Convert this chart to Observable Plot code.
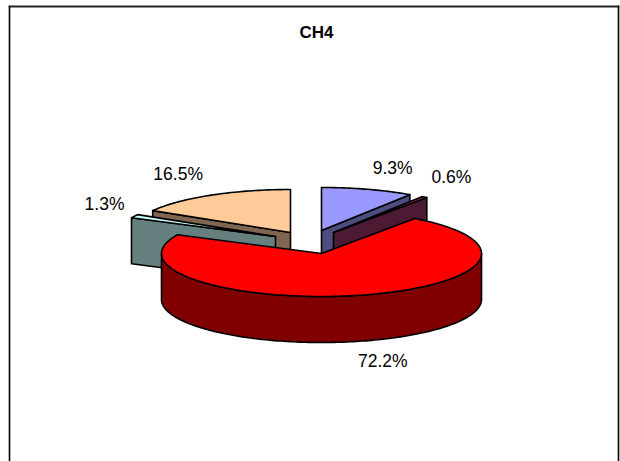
<!DOCTYPE html>
<html>
<head>
<meta charset="utf-8">
<script src="https://cdn.jsdelivr.net/npm/d3@7"></script>
<script src="https://cdn.jsdelivr.net/npm/@observablehq/plot@0.6"></script>
<style>html,body{margin:0;padding:0;background:#fff;overflow:hidden}svg{display:block}</style>
</head>
<body>
<div id="chart"></div>
<script>
const chartTitle = "CH4";
const shares = [9.3, 0.6, 72.2, 1.3, 16.5];
const shareLabels = ["9.3%", "0.6%", "72.2%", "1.3%", "16.5%"];
const topColors = ["#9999FF", "#993366", "#FF0000", "#CCFFFF", "#FFCC99"];
const wallColors = ["#4D4D80", "#4D1A33", "#800000", "#668080", "#806650"];
const paintOrder = [4, 3, 0, 1, 2];

// layout, in pixels of the 620x461 picture
const W = 620, H = 461, box = {left: 9, right: 618, top: 6};
const cx = 321, cy = 253, rx = 160, ry = 43, depthPx = 46;
const explodePx = [[0, -23], [12, -21], [0, 0], [-46, -17], [-31, -21]];
const labelNudge = [[25, -21], [27, -20], [22, 66], [-30, -12], [-33, -21]];

// pie geometry in pie units: x in radii, y in flattened radii (up)
const depth = depthPx / ry;
const total = d3.sum(shares);
let acc = 0;
const slices = shares.map((v, i) => {
  const a0 = acc / total * 2 * Math.PI; acc += v;
  const a1 = acc / total * 2 * Math.PI;
  return {i, a0, a1, ox: explodePx[i][0] / rx, oy: -explodePx[i][1] / ry};
});
const pt = (s, a, z = 0) => ({x: s.ox + Math.sin(a), y: s.oy + Math.cos(a) - z});
const apex = (s, z = 0) => ({x: s.ox, y: s.oy - z});
const arc = (s, a0, a1, z = 0) => {
  const n = Math.max(2, Math.ceil(Math.abs(a1 - a0) / 0.02));
  return d3.range(n + 1).map(k => pt(s, a0 + (a1 - a0) * k / n, z));
};
const poly = (pts, fill) => Plot.line([...pts, pts[0]], {
  x: "x", y: "y", fill, stroke: "#000", strokeWidth: 1.6,
  strokeLinejoin: "round", curve: "linear"
});

const marks = [
  Plot.frame({anchor: "left", stroke: "#000", strokeWidth: 1.6}),
  Plot.frame({anchor: "top", stroke: "#222", strokeWidth: 1.8}),
  Plot.frame({anchor: "right", stroke: "#000", strokeWidth: 1.6})
];
const eps = 1e-9;
for (const i of paintOrder) {
  const s = slices[i];
  const wall = wallColors[i];
  if (Math.sin(s.a0) < -eps)
    marks.push(poly([apex(s), pt(s, s.a0), pt(s, s.a0, depth), apex(s, depth)], wall));
  if (Math.sin(s.a1) > eps)
    marks.push(poly([apex(s), pt(s, s.a1), pt(s, s.a1, depth), apex(s, depth)], wall));
  const f0 = Math.max(s.a0, Math.PI / 2), f1 = Math.min(s.a1, 1.5 * Math.PI);
  if (f1 > f0)
    marks.push(poly([...arc(s, f0, f1), ...arc(s, f1, f0, depth)], wall));
  marks.push(poly([apex(s), ...arc(s, s.a0, s.a1)], topColors[i]));
}
slices.forEach(s => {
  const mid = (s.a0 + s.a1) / 2;
  marks.push(Plot.text([pt(s, mid)], {
    x: "x", y: "y", text: () => shareLabels[s.i],
    dx: labelNudge[s.i][0], dy: labelNudge[s.i][1],
    fontFamily: "Liberation Sans", fontSize: 17.5, fill: "#000", lineAnchor: "middle"
  }));
});
marks.push(Plot.text([{x: 0, y: 0}], {
  x: "x", y: "y", text: () => chartTitle,
  dx: -5, dy: -221, fontFamily: "Liberation Sans", fontSize: 17, fontWeight: "bold",
  fill: "#000", lineAnchor: "middle"
}));

const chart = Plot.plot({
  width: W, height: H,
  marginLeft: box.left, marginRight: W - box.right, marginTop: box.top, marginBottom: 0,
  x: {domain: [(box.left - cx) / rx, (box.right - cx) / rx], axis: null},
  y: {domain: [(cy - H) / ry, (cy - box.top) / ry], axis: null},
  style: {background: "#fff"},
  marks
});
document.getElementById("chart").appendChild(chart);
</script>
</body>
</html>
